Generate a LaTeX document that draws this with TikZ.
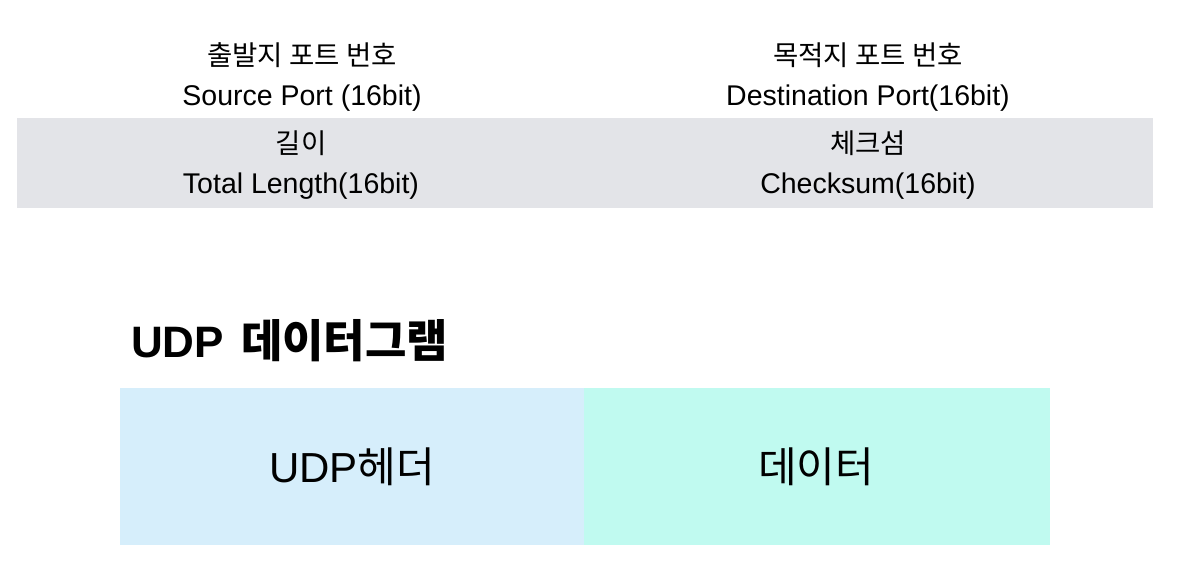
\documentclass[tikz,border=0pt]{standalone}
\usepackage{fontspec}
\setmainfont{Liberation Sans}
\newfontfamily\kr{Noto Sans CJK KR}
\definecolor{bandgray}{HTML}{E3E4E8}
\definecolor{hdrblue}{HTML}{D6EEFB}
\definecolor{datamint}{HTML}{C0FAF0}
\begin{document}
\begin{tikzpicture}[x=1pt,y=-1pt,
  lbl/.style={anchor=base,inner sep=0pt,font=\fontsize{28.5}{30}\selectfont},
  krl/.style={anchor=base,inner sep=0pt,font=\fontsize{27.5}{30}\selectfont\kr},
  title/.style={anchor=base west,inner sep=0pt,font=\fontsize{44}{48}\selectfont\bfseries},
  boxtxt/.style={anchor=base,inner sep=0pt,font=\fontsize{42}{46}\selectfont}]
\useasboundingbox (0,0) rectangle (1190,582);
\fill[white] (0,0) rectangle (1190,582);
% gray band
\fill[bandgray] (17,118) rectangle (1153,208);
% top row
\node[krl] (srck) at (302,65) {출발지 포트 번호};
\node[lbl] (srce) at (302,105) {Source Port (16bit)};
\node[krl] (dstk) at (868,65) {목적지 포트 번호};
\node[lbl] (dste) at (868,105) {Destination Port(16bit)};
% second row
\node[krl] (lenk) at (301,153) {길이};
\node[lbl] (lene) at (301,193) {Total Length(16bit)};
\node[krl] (chkk) at (868,153) {체크섬};
\node[lbl] (chke) at (868,193) {Checksum(16bit)};
% title
\node[title] (ttl) at (131,357) {UDP\hspace{17pt}{\fontsize{45}{48}\selectfont\kr\bfseries 데이터그램}};
% datagram boxes
\fill[hdrblue] (120,388) rectangle (584,545);
\fill[datamint] (584,388) rectangle (1050,545);
\node[boxtxt] (hdr) at (352,482) {UDP{\kr 헤더}};
\node[boxtxt] (dat) at (816,482) {\kr 데이터};
\end{tikzpicture}
\end{document}
